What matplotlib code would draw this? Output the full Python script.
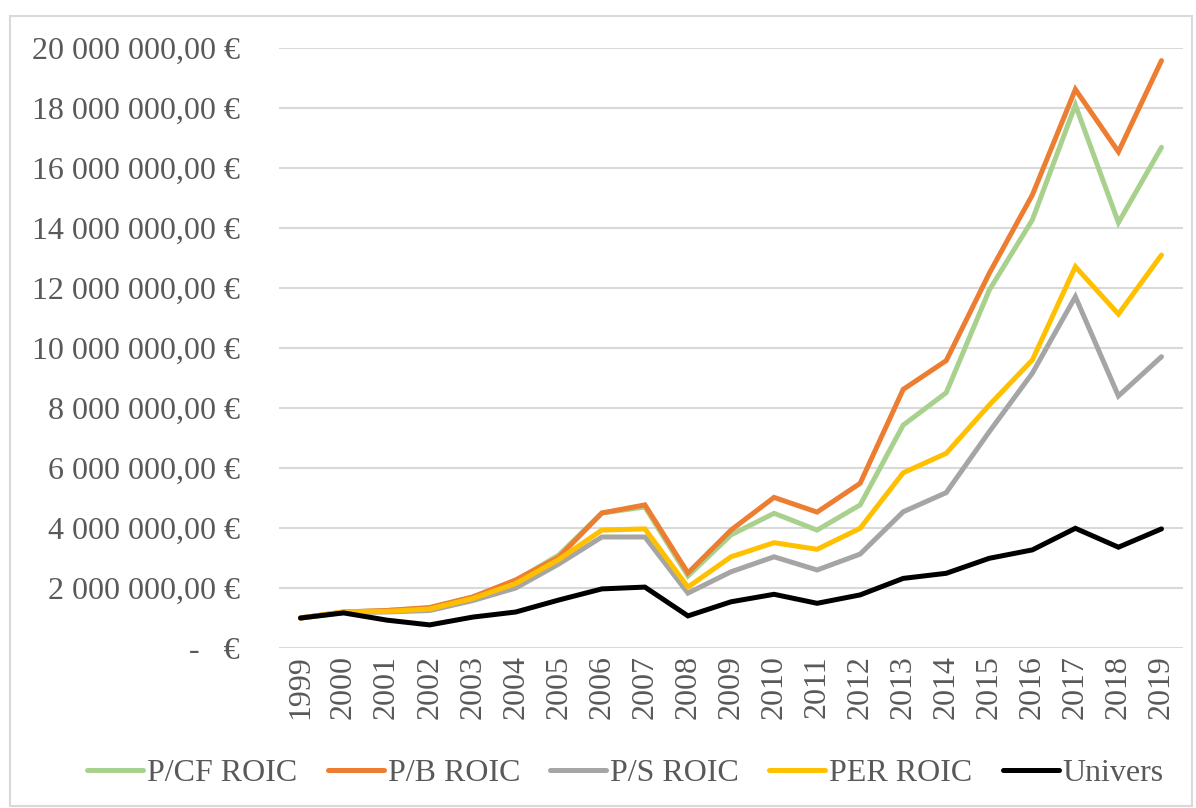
import matplotlib
matplotlib.use("Agg")
import matplotlib.pyplot as plt
import matplotlib.patches as mpatches
import matplotlib.ticker as mticker

years = [str(y) for y in range(1999, 2020)]

pcf_roic = [1.00, 1.20, 1.25, 1.33, 1.70, 2.25, 3.10, 4.50, 4.70, 2.40, 3.77, 4.49,
            3.93, 4.77, 7.43, 8.51, 11.93, 14.27, 18.10, 14.18, 16.69]
pb_roic = [1.00, 1.20, 1.25, 1.35, 1.70, 2.27, 3.03, 4.50, 4.77, 2.50, 3.93, 5.02,
           4.53, 5.49, 8.62, 9.58, 12.49, 15.10, 18.62, 16.54, 19.58]
ps_roic = [1.00, 1.18, 1.20, 1.25, 1.58, 2.00, 2.80, 3.70, 3.70, 1.83, 2.54, 3.04,
           2.60, 3.13, 4.54, 5.18, 7.21, 9.16, 11.71, 8.40, 9.71]
per_roic = [1.00, 1.20, 1.22, 1.30, 1.65, 2.15, 2.95, 3.93, 3.97, 2.03, 3.04, 3.51,
            3.29, 3.99, 5.84, 6.49, 8.10, 9.60, 12.71, 11.13, 13.10]
univers = [1.00, 1.17, 0.93, 0.77, 1.03, 1.20, 1.60, 1.97, 2.03, 1.07, 1.54, 1.79,
           1.49, 1.77, 2.32, 2.49, 2.99, 3.27, 3.99, 3.36, 3.97]

series = [
    ("P/CF ROIC", pcf_roic, "#A9D18E"),
    ("P/B ROIC", pb_roic, "#ED7D31"),
    ("P/S ROIC", ps_roic, "#A5A5A5"),
    ("PER ROIC", per_roic, "#FFC000"),
    ("Univers", univers, "#000000"),
]

plt.rcParams['font.family'] = ['Liberation Serif', 'DejaVu Serif']
txt = "#595959"
fs = 23

fig = plt.figure(figsize=(11.96, 8.08), dpi=100)
ax = fig.add_axes([279 / 1196, 1 - 648 / 808, 904 / 1196, 600 / 808])

x = list(range(len(years)))
for name, vals, col in series:
    ax.plot(x, [v * 1e6 for v in vals], color=col, lw=3.6, label=name,
            solid_joinstyle="miter", solid_capstyle="round")

ax.set_xlim(-0.5, len(years) - 0.5)
ax.set_ylim(0, 20e6)
ax.set_xticks(x)
ax.set_xticklabels(years, rotation=90, fontsize=fs, color=txt)
ax.yaxis.set_major_locator(mticker.MultipleLocator(2e6))


def euro(v, pos):
    if abs(v) < 1:
        return "-   €"
    s = "{:,.2f}".format(v).replace(",", " ").replace(".", ",")
    return s + " €"


ax.yaxis.set_major_formatter(mticker.FuncFormatter(euro))
ax.tick_params(axis="y", labelsize=fs, labelcolor=txt, length=0, pad=28)
ax.tick_params(axis="x", length=0, pad=5)
ax.grid(axis="y", color="#D9D9D9", lw=1.5)
ax.set_axisbelow(True)
for sp in ax.spines.values():
    sp.set_visible(False)

leg = fig.legend(loc="center", bbox_to_anchor=(0.523, 0.043), ncol=5, frameon=False,
                 fontsize=fs, handlelength=1.75, handletextpad=0.12, columnspacing=0.95)
for t in leg.get_texts():
    t.set_color(txt)

fig.patches.append(mpatches.Rectangle((10 / 1196, 2 / 808), 1182 / 1196, 790 / 808,
                                      transform=fig.transFigure, fill=False,
                                      edgecolor="#D9D9D9", lw=1.5))

fig.savefig("out.png", dpi=100)
